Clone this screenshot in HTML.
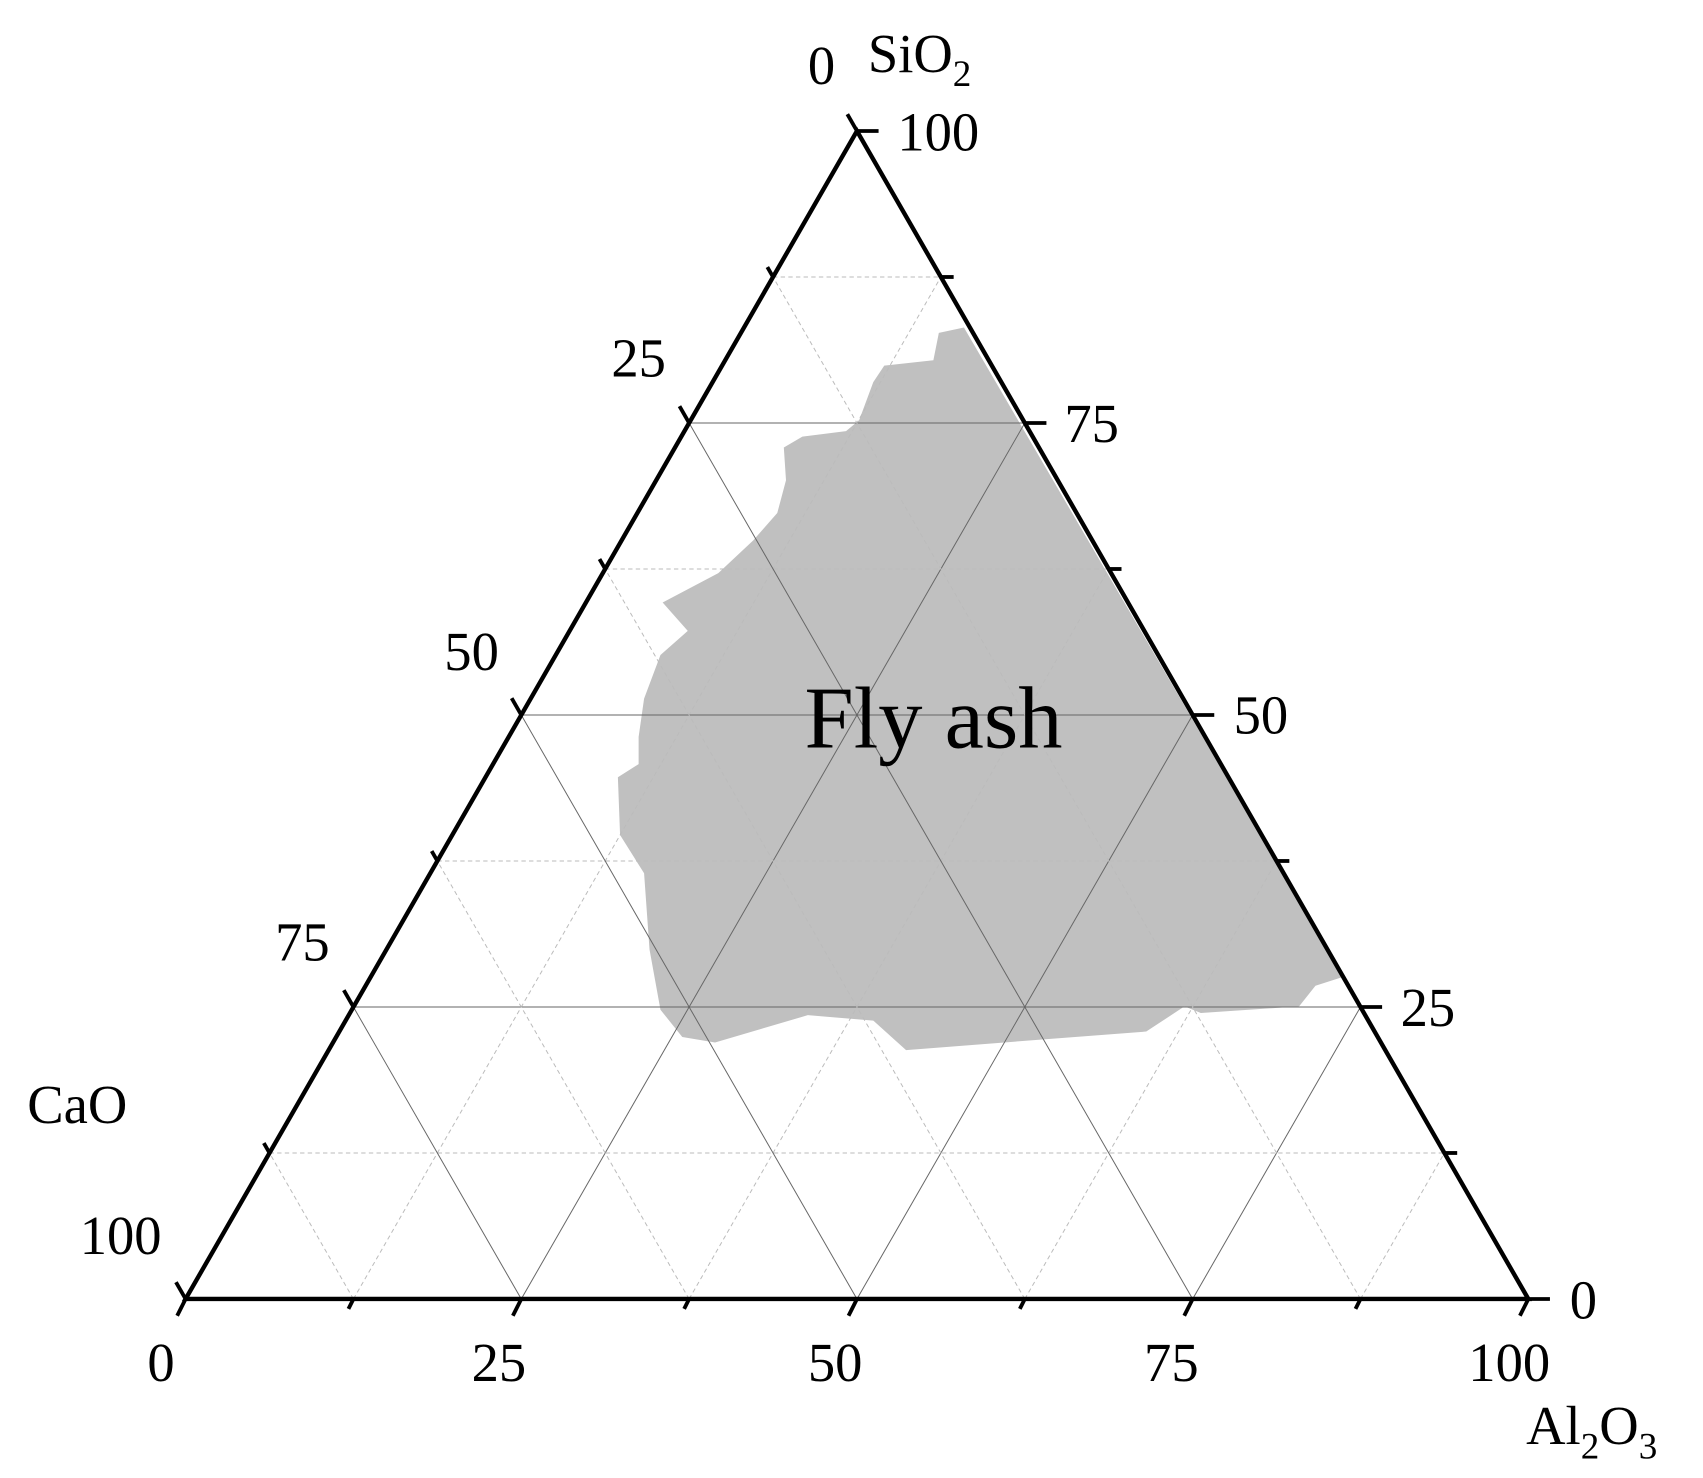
<!DOCTYPE html>
<html><head><style>html,body{margin:0;padding:0;background:#fff}svg{display:block}text{font-family:"Liberation Serif",serif;fill:#000}</style></head>
<body>
<svg width="1703" height="1478" viewBox="0 0 1560 1354" preserveAspectRatio="none" xmlns="http://www.w3.org/2000/svg">
<polygon fill="#c0c0c0" points="860,305 883,300 1230,895 1205,903 1190,922 1100,928 1085,922 1050,945 920,955 830,962 800,935 740,930 655,955 625,950 605,925 595,870 590,800 568,765 566,712 585,700 585,675 590,640 605,600 630,578 607,552 658,525 690,495 712,470 720,440 718,410 735,400 775,395 787,385 800,350 810,335 855,330"/>
<g id="grid" stroke-width="0.9"></g>
<polygon points="170,1190 1400,1190 785,120" fill="none" stroke="#000" stroke-width="4"/>
<g id="ticks" stroke="#000" stroke-width="3.5"></g>
<g font-size="50">
<text x="740" y="77">0</text>
<text x="795" y="66">SiO<tspan font-size="34" dy="13">2</tspan></text>
<text x="822" y="138">100</text>
<text x="560" y="345">25</text>
<text x="407" y="614">50</text>
<text x="252" y="880">75</text>
<text x="73" y="1149">100</text>
<text x="25" y="1029">CaO</text>
<text x="975" y="405">75</text>
<text x="1130" y="672">50</text>
<text x="1283" y="940">25</text>
<text x="1438" y="1208">0</text>
<text x="135" y="1265">0</text>
<text x="432" y="1265">25</text>
<text x="740" y="1265">50</text>
<text x="1048" y="1265">75</text>
<text x="1345" y="1265">100</text>
<text x="1398" y="1323">Al<tspan font-size="34" dy="13">2</tspan><tspan dy="-13">O</tspan><tspan font-size="34" dy="13">3</tspan></text>
</g>
<text x="737" y="685" font-size="81">Fly ash</text>
<script>
var g=document.getElementById('grid'),t=document.getElementById('ticks'),ns="http://www.w3.org/2000/svg";
function ln(p,a,b,c,d,s,da){var l=document.createElementNS(ns,'line');l.setAttribute('x1',a);l.setAttribute('y1',b);l.setAttribute('x2',c);l.setAttribute('y2',d);if(s)l.setAttribute('stroke',s);if(da)l.setAttribute('stroke-dasharray',da);p.appendChild(l);}
for(var i=1;i<8;i++){var f=i/8,maj=i%2==0,s=maj?'#666':'#bbb',da=maj?null:'4,3';
var bx=170+1230*f;
ln(g,bx,1190,bx+615*(1-f),1190-1070*(1-f),s,da);
ln(g,bx,1190,bx-615*f,1190-1070*f,s,da);
var y=1190-1070*f;ln(g,170+615*f,y,1400-615*f,y,s,da);
}
for(var i=0;i<=8;i++){var f=i/8,maj=i%2==0,k=maj?1.1:0.65;
var bx=170+1230*f;ln(t,bx,1190,bx-7*k,1190+14*k);
var y=1190-1070*f;ln(t,1400-615*f,y,1400-615*f+18*k,y);
var lx=785-615*f,ly=120+1070*f;ln(t,lx,ly,lx-8*k,ly-14*k);
}
</script>
</svg>
</body></html>
